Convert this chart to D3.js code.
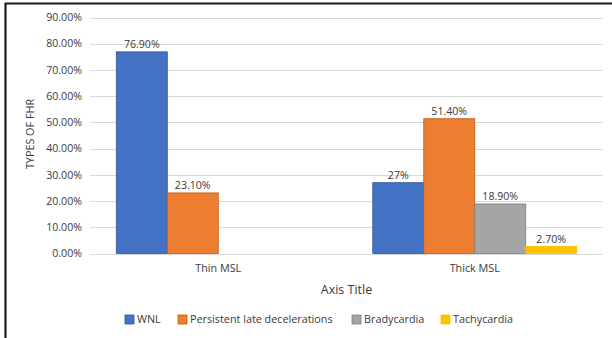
<!DOCTYPE html>
<html>
<head>
<meta charset="utf-8">
<script src="https://cdn.jsdelivr.net/npm/d3@7"></script>
<style>
  html, body { margin: 0; padding: 0; background: #fff; }
  svg { display: block; font-family: "Open Sans", "Liberation Sans", sans-serif; }
</style>
</head>
<body>
<svg id="chart" width="612" height="338"></svg>
<script>
// Fetal heart rate types by meconium-stained liquor thickness
const categories = ["Thin MSL", "Thick MSL"];
const seriesNames = ["WNL", "Persistent late decelerations", "Bradycardia", "Tachycardia"];
const seriesColors = ["#4472C4", "#ED7D31", "#A5A5A5", "#FFC000"];
const strokeColors = ["#2F528F", "#C55A11", "#7F7F7F", "#FFC000"];
const thinValues = [76.9, 23.1, null, null];
const thickValues = [27, 51.4, 18.9, 2.7];
const valueLabels = [["76.90%", "23.10%", null, null], ["27%", "51.40%", "18.90%", "2.70%"]];
const yTicks = [0, 10, 20, 30, 40, 50, 60, 70, 80, 90];

const svg = d3.select("#chart");
const margin = { left: 90, right: 9, top: 17.5, bottom: 84.5 };
const W = 612, H = 338;
const textColor = "#3a3a3a";

// Frame lines (top and left)
svg.append("line").attr("x1", 5).attr("x2", 612).attr("y1", 3.5).attr("y2", 3.5)
  .attr("stroke", "#1a1a1a").attr("stroke-width", 2.2);
svg.append("line").attr("x1", 5.5).attr("x2", 5.5).attr("y1", 3).attr("y2", 338)
  .attr("stroke", "#1a1a1a").attr("stroke-width", 2.2);

const y = d3.scaleLinear().domain([0, 90]).range([H - margin.bottom, margin.top]);
const x0 = d3.scaleBand().domain(categories).range([margin.left, W - margin.right]).paddingInner(0.205).paddingOuter(0.1025);
const x1 = d3.scaleBand().domain(seriesNames).range([0, x0.bandwidth()]);

// Gridlines
svg.append("g").selectAll("line").data(yTicks).join("line")
  .attr("x1", margin.left).attr("x2", W - margin.right)
  .attr("y1", d => Math.round(y(d)) + 0.5).attr("y2", d => Math.round(y(d)) + 0.5)
  .attr("stroke", "#d9d9d9").attr("stroke-width", 1.2);

// Y axis tick labels
svg.append("g").selectAll("text").data(yTicks).join("text")
  .attr("x", 82).attr("y", d => y(d)).attr("dy", "0.35em")
  .attr("text-anchor", "end").attr("font-size", 10.6).attr("fill", textColor)
  .text(d => d.toFixed(2) + "%");

const rows = [thinValues, thickValues];
const data = [];
rows.forEach((vals, ci) => vals.forEach((v, si) => {
  if (v !== null) data.push({ cat: categories[ci], series: seriesNames[si], si, v, label: valueLabels[ci][si] });
}));

// Bars
svg.append("g").selectAll("rect").data(data).join("rect")
  .attr("x", d => x0(d.cat) + x1(d.series))
  .attr("y", d => y(d.v))
  .attr("width", x1.bandwidth())
  .attr("height", d => y(0) - y(d.v))
  .attr("fill", d => seriesColors[d.si])
  .attr("stroke", d => strokeColors[d.si])
  .attr("stroke-width", 0.8);

// Value labels
svg.append("g").selectAll("text").data(data).join("text")
  .attr("x", d => x0(d.cat) + x1(d.series) + x1.bandwidth() / 2)
  .attr("y", d => y(d.v) - 3.5)
  .attr("text-anchor", "middle").attr("font-size", 10.6).attr("fill", textColor)
  .text(d => d.label);

// Category labels
svg.append("g").selectAll("text").data(categories).join("text")
  .attr("x", d => x0(d) + x0.bandwidth() / 2).attr("y", 272)
  .attr("text-anchor", "middle").attr("font-size", 10.8).attr("fill", textColor)
  .text(d => d);

// Axis titles
svg.append("text").attr("x", (margin.left + W - margin.right) / 2).attr("y", 294)
  .attr("text-anchor", "middle").attr("font-size", 12.5).attr("fill", textColor).text("Axis Title");
svg.append("text").attr("transform", "translate(34,134) rotate(-90)")
  .attr("text-anchor", "middle").attr("font-size", 10.8).attr("fill", textColor).text("TYPES OF FHR");

// Legend
const legendX = [125, 178, 352, 441];
const lg = svg.append("g").selectAll("g").data(seriesNames).join("g")
  .attr("transform", (d, i) => `translate(${legendX[i]},315)`);
lg.append("rect").attr("width", 9).attr("height", 9)
  .attr("fill", (d, i) => seriesColors[i]).attr("stroke", (d, i) => strokeColors[i]).attr("stroke-width", 0.8);
lg.append("text").attr("x", 12).attr("y", 4.5).attr("dy", "0.35em")
  .attr("font-size", 10.8).attr("fill", textColor).text(d => d);
</script>
</body>
</html>
